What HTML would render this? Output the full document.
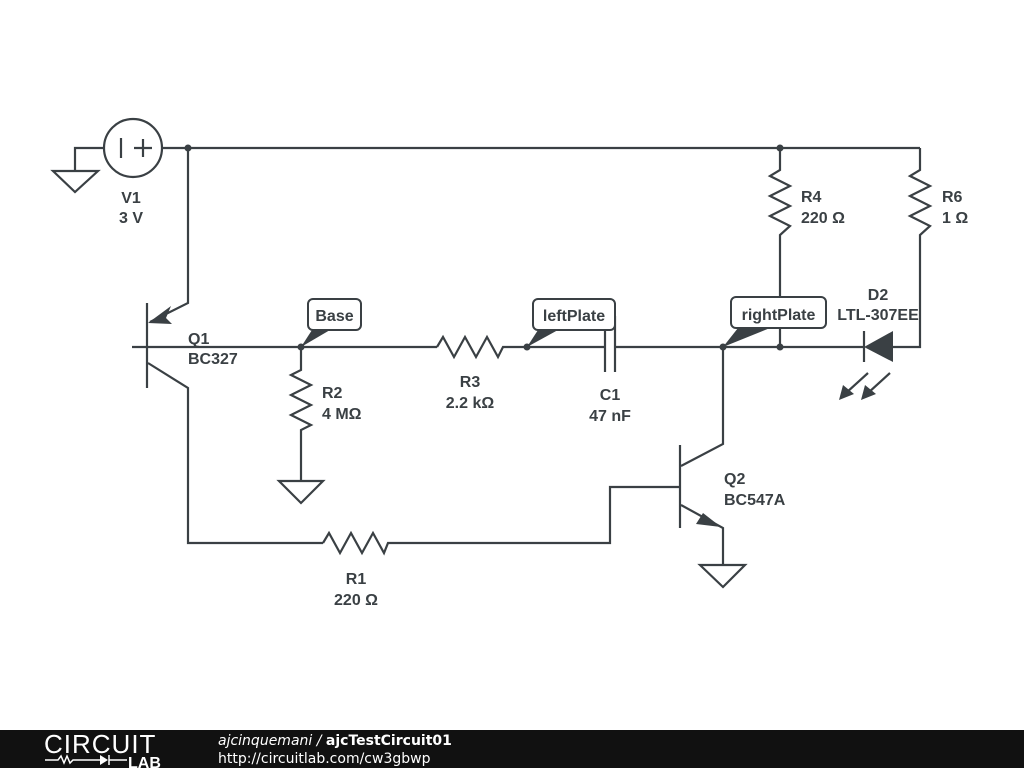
<!DOCTYPE html>
<html><head><meta charset="utf-8"><style>
html,body{margin:0;padding:0;background:#fff;}
svg{display:block}
text{font-family:"Liberation Sans",sans-serif;font-weight:bold;font-size:16px;fill:#3a4044}
</style></head><body>
<svg width="1024" height="768" viewBox="0 0 1024 768" xmlns="http://www.w3.org/2000/svg">
<g stroke="#3a4044" stroke-width="2.2" fill="none" stroke-linejoin="miter">
<circle cx="133" cy="148" r="29"/>
<line x1="121" y1="138" x2="121" y2="158"/>
<line x1="134" y1="148" x2="152" y2="148"/><line x1="143" y1="139" x2="143" y2="157"/>
<polyline points="104,148 75,148 75,171"/>
<polygon points="53,171 98,171 75,192"/>
<line x1="162" y1="148" x2="920" y2="148"/>
<polyline points="188,148 188,303 150,322"/>
<line x1="147" y1="303" x2="147" y2="388"/>
<line x1="132" y1="347" x2="437" y2="347"/>
<polyline points="148,363 188,388 188,543 323,543"/>
<polyline points="323,543 329,533 340,553 351,533 362,553 373,533 384,553 388,543 610,543 610,487 680,487"/>
<polyline points="301,347 301,370 291,375 311,385 291,395 311,405 291,415 311,425 301,430 301,481"/>
<polygon points="279,481 323,481 301,503"/>
<polyline points="437,347 443,337 454,357 465,337 476,357 487,337 498,357 503,347 605,347"/>
<line x1="605" y1="318" x2="605" y2="372"/>
<line x1="615" y1="316" x2="615" y2="372"/>
<line x1="615" y1="347" x2="864" y2="347"/>
<polyline points="780,148 780,170 770,176 790,186 770,196 790,206 770,216 790,226 780,235 780,347"/>
<polyline points="920,148 920,170 910,176 930,186 910,196 930,206 910,216 930,226 920,235 920,347 893,347"/>
<line x1="864" y1="331" x2="864" y2="362"/>
<line x1="680" y1="445" x2="680" y2="528"/>
<polyline points="723,347 723,444 681,466"/>
<polyline points="681,505 723,528 723,565"/>
<polygon points="700,565 745,565 723,587"/>
<line x1="868" y1="373" x2="846" y2="393"/>
<line x1="890" y1="373" x2="868" y2="393"/>
</g>
<g fill="#3a4044">
<polygon points="148,323 171,306 166,318 172,324"/>
<polygon points="721,527 696,524 703,513"/>
<polygon points="864,347 893,331 893,362"/>
<polygon points="839,400 843,385 854,394"/>
<polygon points="861,400 865,385 876,394"/>
<circle cx="188" cy="148" r="3.5"/><circle cx="780" cy="148" r="3.5"/>
<circle cx="301" cy="347" r="3.5"/><circle cx="527" cy="347" r="3.5"/>
<circle cx="723" cy="347" r="3.5"/><circle cx="780" cy="347" r="3.5"/>
<polygon points="301,347 312,330 330,330"/>
<polygon points="527,347 538,330 558,330"/>
<polygon points="723,347 738,328 770,328"/>
</g>
<g stroke="#3a4044" stroke-width="2" fill="#fff">
<rect x="308" y="299" width="53" height="31" rx="5"/>
<rect x="533" y="299" width="82" height="31" rx="5"/>
<rect x="731" y="297" width="95" height="31" rx="5"/>
</g>
<text x="334.5" y="321" text-anchor="middle">Base</text>
<text x="574" y="321" text-anchor="middle">leftPlate</text>
<text x="778.5" y="320" text-anchor="middle">rightPlate</text>
<text x="131" y="203" text-anchor="middle">V1</text><text x="131" y="223" text-anchor="middle">3 V</text>
<text x="188" y="344">Q1</text><text x="188" y="364">BC327</text>
<text x="322" y="398">R2</text><text x="322" y="419">4 MΩ</text>
<text x="470" y="387" text-anchor="middle">R3</text><text x="470" y="408" text-anchor="middle">2.2 kΩ</text>
<text x="610" y="400" text-anchor="middle">C1</text><text x="610" y="421" text-anchor="middle">47 nF</text>
<text x="801" y="202">R4</text><text x="801" y="223">220 Ω</text>
<text x="942" y="202">R6</text><text x="942" y="223">1 Ω</text>
<text x="878" y="300" text-anchor="middle">D2</text><text x="878" y="320" text-anchor="middle">LTL-307EE</text>
<text x="724" y="484">Q2</text><text x="724" y="505">BC547A</text>
<text x="356" y="584" text-anchor="middle">R1</text><text x="356" y="605" text-anchor="middle">220 Ω</text>
<rect x="0" y="730" width="1024" height="38" fill="#111"/>
<text x="44" y="753" style="font-weight:normal;font-size:26px;fill:#fff;letter-spacing:1px">CIRCUIT</text>
<polyline points="45,760 58,760 61,756 64,763 67,756 70,763 73,760 100,760" stroke="#fff" stroke-width="1.5" fill="none"/>
<polygon points="100,755 100,765 108,760" fill="#fff"/>
<line x1="109" y1="755" x2="109" y2="765" stroke="#fff" stroke-width="1.5"/>
<line x1="109" y1="760" x2="127" y2="760" stroke="#fff" stroke-width="1.5"/>
<text x="128" y="768" style="font-size:16px;fill:#fff">LAB</text>
<text x="218" y="745" style="font-family:'DejaVu Sans',sans-serif;font-weight:normal;font-style:italic;font-size:14px;fill:#fff">ajcinquemani / <tspan style="font-style:normal;font-weight:bold">ajcTestCircuit01</tspan></text>
<text x="218" y="763" style="font-family:'DejaVu Sans',sans-serif;font-weight:normal;font-size:14px;fill:#fff">http://circuitlab.com/cw3gbwp</text>
</svg>
</body></html>
